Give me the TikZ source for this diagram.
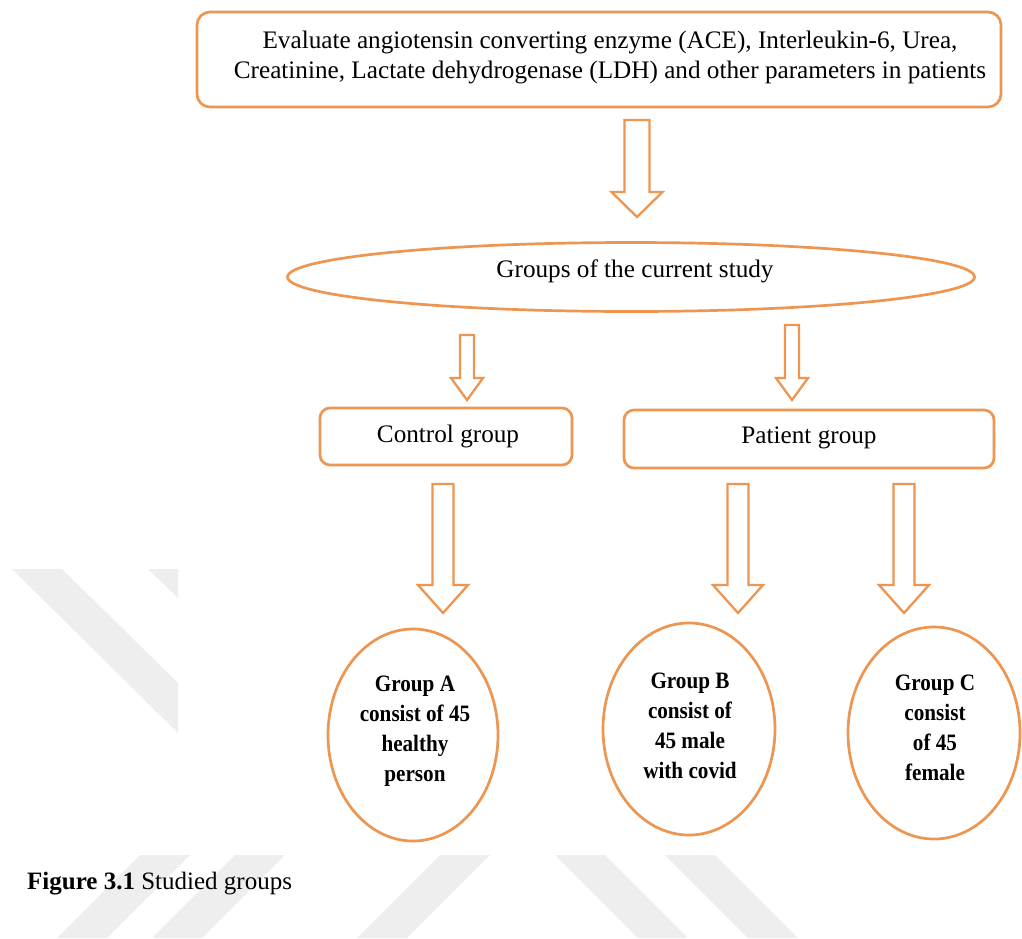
\documentclass[tikz,border=0pt]{standalone}
\usepackage{fontspec}
\setmainfont{Liberation Serif}
\newfontfamily\condserif{Liberation Serif}[FakeStretch=0.9]
\usetikzlibrary{shapes.geometric}
\definecolor{org}{RGB}{236,150,82}
\definecolor{wm}{RGB}{238,238,238}
\newcommand\hollowarrow[6]{% cx, top, tip, shaft half width, head half width, head length
  \draw[arrowshape] (#1-#4,#2) -- (#1+#4,#2) -- (#1+#4,#3-#6) -- (#1+#5,#3-#6)
    -- (#1,#3) -- (#1-#5,#3-#6) -- (#1-#4,#3-#6) -- cycle;}
\begin{document}
\begin{tikzpicture}[x=1pt,y=-1pt,
  rbox/.style={draw=org, line width=2.7pt, rounded corners=13pt, fill=white, inner sep=0pt},
  oval/.style={ellipse, draw=org, line width=2.7pt, fill=white, inner sep=0pt},
  arrowshape/.style={draw=org, line width=2.3pt, fill=white, line join=miter},
  txt/.style={font=\fontsize{25.2}{30}\selectfont, align=center, inner sep=0pt},
  btxt/.style={font=\condserif\bfseries\fontsize{23.5}{30}\selectfont, align=center, inner sep=0pt},
  wmark/.style={fill=wm, draw=none}]
\useasboundingbox (0,0) rectangle (1022,938);
\fill[white] (0,0) rectangle (1022,938);
% watermark stripes
\fill[wmark] (12,569) -- (62,569) -- (178,683) -- (178,733) -- cycle;
\fill[wmark] (148,569) -- (178,569) -- (178,598) -- cycle;
\fill[wmark] (140,855) -- (190,855) -- (107,938) -- (57,938) -- cycle;
\fill[wmark] (235,855) -- (285,855) -- (202,938) -- (152,938) -- cycle;
\fill[wmark] (440,855) -- (490,855) -- (407,938) -- (357,938) -- cycle;
\fill[wmark] (555,855) -- (605,855) -- (688,938) -- (638,938) -- cycle;
\fill[wmark] (665,855) -- (715,855) -- (798,938) -- (748,938) -- cycle;
% top box
\node[rbox, minimum width=804pt, minimum height=95pt] (top) at (599,59.5) {};
\node[txt] (toptext) at (610,57) {Evaluate angiotensin converting enzyme (ACE), Interleukin-6, Urea,\\Creatinine, Lactate dehydrogenase (LDH) and other parameters in patients};
% ellipse
\node[oval, minimum width=687pt, minimum height=69pt] (groups) at (631,277) {};
\node[txt] (groupstext) at (635,271) {Groups of the current study};
% group boxes
\node[rbox, rounded corners=10pt, minimum width=252pt, minimum height=57pt] (control) at (446,436.5) {};
\node[txt] (controltext) at (448,436) {Control group};
\node[rbox, rounded corners=10pt, minimum width=370pt, minimum height=58pt] (patient) at (809,439) {};
\node[txt] (patienttext) at (809,438) {Patient group};
% circles
\node[oval, minimum width=170pt, minimum height=212pt] (ga) at (413,735) {};
\node[btxt] (gatext) at (415,731) {Group A\\consist of 45\\healthy\\person};
\node[oval, minimum width=172pt, minimum height=212pt] (gb) at (689,729) {};
\node[btxt] (gbtext) at (690,726) {Group B\\consist of\\45 male\\with covid};
\node[oval, minimum width=172pt, minimum height=212pt] (gc) at (934,733) {};
\node[btxt] (gctext) at (935,728) {Group C\\consist\\of 45\\female};
% arrows
\hollowarrow{637}{120}{217}{12.5}{25.5}{25}
\hollowarrow{467}{335}{400}{7}{16}{22}
\hollowarrow{792}{325}{400}{7}{16}{22}
\hollowarrow{443}{484}{613}{10.5}{25}{28}
\hollowarrow{738}{484}{613}{10.5}{25}{28}
\hollowarrow{904}{484}{613}{10.5}{25}{28}
% caption
\node[anchor=base west, inner sep=0pt, font=\fontsize{25}{30}\selectfont] (caption) at (27,889) {\textbf{Figure 3.1} Studied groups};
\end{tikzpicture}
\end{document}
